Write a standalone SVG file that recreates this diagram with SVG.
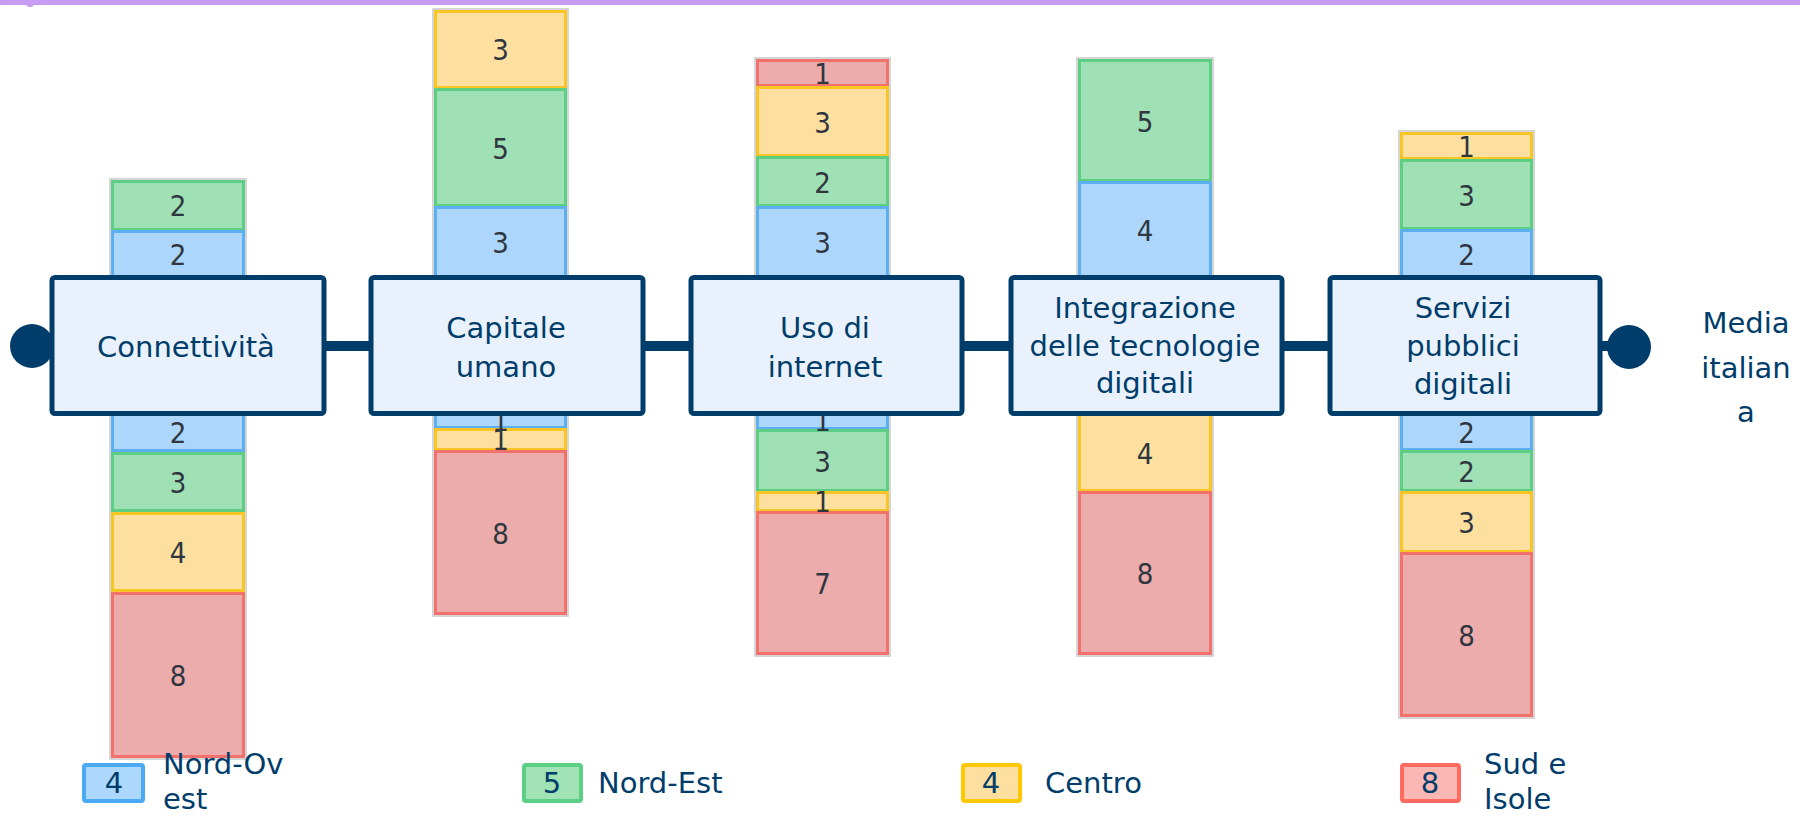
<svg xmlns="http://www.w3.org/2000/svg" width="1800" height="815" viewBox="0 0 1800 815">
<style>
.box{fill:#e9f2fc;stroke:#003d6b;stroke-width:5}
.lbl{font-family:"DejaVu Sans",sans-serif;font-size:29px;fill:#003d6b;text-anchor:middle}
.leg{font-family:"DejaVu Sans",sans-serif;font-size:29px;fill:#003d6b}
.num{font-family:"DejaVu Sans Condensed","DejaVu Sans",sans-serif;font-size:29px;fill:#2f3640;text-anchor:middle}
.b{fill:#acd6fb;stroke:#5cb0f2;stroke-width:3}
.g{fill:#9fe0b5;stroke:#5ccf85;stroke-width:3}
.y{fill:#fde0a0;stroke:#f8c524;stroke-width:3}
.r{fill:#ecacab;stroke:#f2716a;stroke-width:3}
.sh{fill:none;stroke:#c8c8c8;stroke-width:1.5}
.lb{fill:#add8fd;stroke:#4aaaf5;stroke-width:4}
.lg{fill:#a1e3b5;stroke:#5bd085;stroke-width:4}
.ly{fill:#fde0a0;stroke:#fdc800;stroke-width:4}
.lr{fill:#fbb7b3;stroke:#ff6b61;stroke-width:4}
.dot{fill:#003d6b}
</style>
<rect x="0" y="0" width="1800" height="5" fill="#c99cf5"/>
<circle cx="30" cy="3" r="4" fill="#c99cf5"/>
<g id="connectors">
<line x1="32" y1="346" x2="1629" y2="346" stroke="#003d6b" stroke-width="10"/>
<circle class="dot" cx="32" cy="346" r="22"/>
<circle class="dot" cx="1629" cy="347" r="22"/>
</g>
<g id="node-connettivita">
<rect class="sh" x="110" y="179" width="136" height="580"/>
<rect class="g" x="112.5" y="181.5" width="131" height="48"/>
<rect class="b" x="112.5" y="231.5" width="131" height="48"/>
<rect class="b" x="112.5" y="413.5" width="131" height="37"/>
<rect class="g" x="112.5" y="453.5" width="131" height="57"/>
<rect class="y" x="112.5" y="513.5" width="131" height="77"/>
<rect class="r" x="112.5" y="593.5" width="131" height="163"/>
<text class="num" x="178" y="265">2</text>
<text class="num" x="178" y="216">2</text>
<text class="num" x="178" y="443">2</text>
<text class="num" x="178" y="493">3</text>
<text class="num" x="178" y="563">4</text>
<text class="num" x="178" y="686">8</text>
<rect class="box" x="52" y="277.5" width="272" height="136" rx="3"/>
<text class="lbl" x="186" y="357">Connettività</text>
</g>
<g id="node-capitale">
<rect class="sh" x="433" y="9" width="135" height="607"/>
<rect class="y" x="435.5" y="11.5" width="130" height="76"/>
<rect class="g" x="435.5" y="89.5" width="130" height="116"/>
<rect class="b" x="435.5" y="207.5" width="130" height="72"/>
<rect class="b" x="435.5" y="413.5" width="130" height="14"/>
<rect class="y" x="435.5" y="429.5" width="130" height="20"/>
<rect class="r" x="435.5" y="451.5" width="130" height="162"/>
<text class="num" x="500.5" y="60">3</text>
<text class="num" x="500.5" y="159">5</text>
<text class="num" x="500.5" y="253">3</text>
<text class="num" x="500.5" y="431">1</text>
<text class="num" x="500.5" y="450">1</text>
<text class="num" x="500.5" y="544">8</text>
<rect class="box" x="371" y="277.5" width="272" height="136" rx="3"/>
<text class="lbl" x="506" y="338">Capitale</text>
<text class="lbl" x="506" y="377">umano</text>
</g>
<g id="node-uso">
<rect class="sh" x="755" y="58" width="135" height="598"/>
<rect class="r" x="757.5" y="60.5" width="130" height="25"/>
<rect class="y" x="757.5" y="87.5" width="130" height="68"/>
<rect class="g" x="757.5" y="157.5" width="130" height="48"/>
<rect class="b" x="757.5" y="207.5" width="130" height="72"/>
<rect class="b" x="757.5" y="413.5" width="130" height="15"/>
<rect class="g" x="757.5" y="430.5" width="130" height="60"/>
<rect class="y" x="757.5" y="492.5" width="130" height="18"/>
<rect class="r" x="757.5" y="512.5" width="130" height="141"/>
<text class="num" x="822.5" y="84">1</text>
<text class="num" x="822.5" y="133">3</text>
<text class="num" x="822.5" y="193">2</text>
<text class="num" x="822.5" y="253">3</text>
<text class="num" x="822.5" y="431">1</text>
<text class="num" x="822.5" y="472">3</text>
<text class="num" x="822.5" y="512">1</text>
<text class="num" x="822.5" y="594">7</text>
<rect class="box" x="691" y="277.5" width="271" height="136" rx="3"/>
<text class="lbl" x="825" y="338">Uso di</text>
<text class="lbl" x="825" y="377">internet</text>
</g>
<g id="node-integrazione">
<rect class="sh" x="1077" y="58" width="136" height="598"/>
<rect class="g" x="1079.5" y="60.5" width="131" height="120"/>
<rect class="b" x="1079.5" y="182.5" width="131" height="97"/>
<rect class="y" x="1079.5" y="413.5" width="131" height="77"/>
<rect class="r" x="1079.5" y="492.5" width="131" height="161"/>
<text class="num" x="1145" y="132">5</text>
<text class="num" x="1145" y="241">4</text>
<text class="num" x="1145" y="464">4</text>
<text class="num" x="1145" y="584">8</text>
<rect class="box" x="1011" y="277.5" width="271" height="136" rx="3"/>
<text class="lbl" x="1145" y="318">Integrazione</text>
<text class="lbl" x="1145" y="356">delle tecnologie</text>
<text class="lbl" x="1145" y="393">digitali</text>
</g>
<g id="node-servizi">
<rect class="sh" x="1399" y="131" width="135" height="587"/>
<rect class="y" x="1401.5" y="133.5" width="130" height="25"/>
<rect class="g" x="1401.5" y="160.5" width="130" height="68"/>
<rect class="b" x="1401.5" y="230.5" width="130" height="49"/>
<rect class="b" x="1401.5" y="413.5" width="130" height="36"/>
<rect class="g" x="1401.5" y="451.5" width="130" height="39"/>
<rect class="y" x="1401.5" y="492.5" width="130" height="59"/>
<rect class="r" x="1401.5" y="553.5" width="130" height="162"/>
<text class="num" x="1466.5" y="157">1</text>
<text class="num" x="1466.5" y="206">3</text>
<text class="num" x="1466.5" y="265">2</text>
<text class="num" x="1466.5" y="443">2</text>
<text class="num" x="1466.5" y="482">2</text>
<text class="num" x="1466.5" y="533">3</text>
<text class="num" x="1466.5" y="646">8</text>
<rect class="box" x="1330" y="277.5" width="270" height="136" rx="3"/>
<text class="lbl" x="1463" y="318">Servizi</text>
<text class="lbl" x="1463" y="356">pubblici</text>
<text class="lbl" x="1463" y="394">digitali</text>
</g>
<g id="node-media">
<text class="lbl" x="1746" y="333">Media</text>
<text class="lbl" x="1746" y="378">italian</text>
<text class="lbl" x="1746" y="422">a</text>
</g>
<g id="legend">
<rect class="lb" x="84" y="765" width="59" height="36" rx="2"/>
<text class="lbl" x="114" y="793">4</text>
<text class="leg" x="163" y="774">Nord-Ov</text>
<text class="leg" x="163" y="809">est</text>
<rect class="lg" x="524" y="765" width="57" height="36" rx="2"/>
<text class="lbl" x="552" y="793">5</text>
<text class="leg" x="598" y="793">Nord-Est</text>
<rect class="ly" x="963" y="765" width="57" height="36" rx="2"/>
<text class="lbl" x="991" y="793">4</text>
<text class="leg" x="1045" y="793">Centro</text>
<rect class="lr" x="1402" y="765" width="57" height="36" rx="2"/>
<text class="lbl" x="1430" y="793">8</text>
<text class="leg" x="1484" y="774">Sud e</text>
<text class="leg" x="1484" y="809">Isole</text>
</g>
</svg>
